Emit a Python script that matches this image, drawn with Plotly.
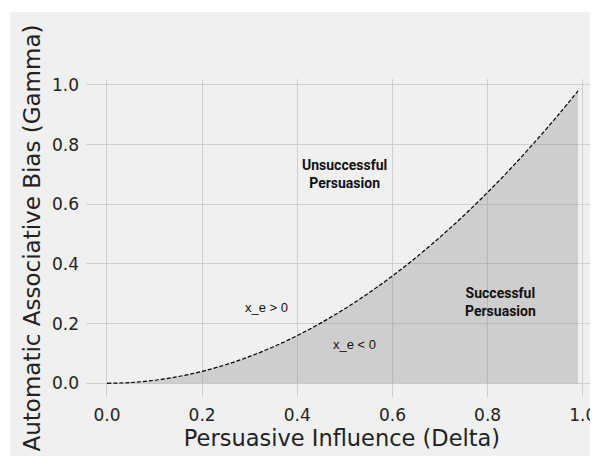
import plotly.graph_objects as go

# Data
delta = [0.0, 0.05, 0.1, 0.15, 0.2, 0.25, 0.3, 0.35, 0.4, 0.45, 0.5, 0.55,
         0.6, 0.65, 0.7, 0.75, 0.8, 0.85, 0.9, 0.95, 0.99]
gamma = [0.0, 0.0025, 0.01, 0.0225, 0.04, 0.0625, 0.09, 0.1225, 0.16, 0.2025,
         0.25, 0.3025, 0.36, 0.4225, 0.49, 0.5625, 0.64, 0.7225, 0.81, 0.9025, 0.98]

x_ticks = [0.0, 0.2, 0.4, 0.6, 0.8, 1.0]
y_ticks = [0.0, 0.2, 0.4, 0.6, 0.8, 1.0]

region_labels = ["Unsuccessful<br>Persuasion", "Successful<br>Persuasion"]
region_x = [0.50, 0.827]
region_y = [0.70, 0.273]

sign_labels = ["x_e > 0", "x_e < 0"]
sign_x = [0.336, 0.52]
sign_y = [0.255, 0.131]

fig = go.Figure()

fig.add_trace(go.Scatter(
    x=delta, y=gamma, mode="lines", fill="tozeroy",
    fillcolor="rgba(128,128,128,0.3)", line=dict(width=0, shape="spline"),
    hoverinfo="skip", showlegend=False))
fig.add_trace(go.Scatter(
    x=delta, y=gamma, mode="lines",
    line=dict(color="black", width=1.2, dash="4px,2px", shape="spline"),
    showlegend=False))

for t, xx, yy in zip(region_labels, region_x, region_y):
    fig.add_annotation(x=xx, y=yy, xref="x", yref="y", text=t, showarrow=False,
                       font=dict(family="Roboto, sans-serif",
                                 size=14, color="#111", weight="bold"),
                       align="center")
for t, xx, yy in zip(sign_labels, sign_x, sign_y):
    fig.add_annotation(x=xx, y=yy, xref="x", yref="y", text=t, showarrow=False,
                       font=dict(family="Liberation Sans, sans-serif", size=13, color="#111"))

# The page body has an 8px margin; figure starts at page px (8, 8).
W, H = 598, 456
ML, MT, MR, MB = 78, 71, 8, 67
PW, PH = W - ML - MR, H - MT - MB

# white border strips at the top and left of the figure panel
fig.add_shape(type="rect", xref="paper", yref="paper",
              x0=-ML / PW, x1=1.0 + 20 / PW,
              y0=(H - MB - 4) / PH, y1=(H - MB + 5) / PH,
              fillcolor="white", line=dict(width=0), layer="below")
fig.add_shape(type="rect", xref="paper", yref="paper",
              x0=-(ML + 5) / PW, x1=(2 - ML) / PW,
              y0=-(MB + 10) / PH, y1=(H - MB + 5) / PH,
              fillcolor="white", line=dict(width=0), layer="below")

axis_font = dict(family="DejaVu Sans", size=17, color="#222")
fig.update_layout(
    width=W, height=H,
    margin=dict(l=ML, r=MR, t=MT, b=MB, pad=0),
    paper_bgcolor="#f0f0f0", plot_bgcolor="#f0f0f0",
    xaxis=dict(range=[-0.0441, 1.032], tickvals=x_ticks, automargin=False,
               ticktext=[f"{v:.1f}" for v in x_ticks],
               showgrid=True, gridcolor="#cfcfcf", gridwidth=1, zeroline=False,
               showline=False, ticks="", tickfont=axis_font, ticklabelstandoff=6,
               title=dict(text="Persuasive Influence (Delta)", standoff=4,
                          font=dict(family="DejaVu Sans", size=22.5, color="#222"))),
    yaxis=dict(range=[-0.046, 1.020], tickvals=y_ticks, automargin=False,
               ticktext=[f"{v:.1f}" for v in y_ticks],
               showgrid=True, gridcolor="#cfcfcf", gridwidth=1, zeroline=False,
               showline=False, ticks="", tickfont=axis_font, ticklabelstandoff=6,
               title=dict(text="Automatic Associative Bias (Gamma)", standoff=4,
                          font=dict(family="DejaVu Sans", size=23, color="#222"))),
)

fig.write_html("out.html")
